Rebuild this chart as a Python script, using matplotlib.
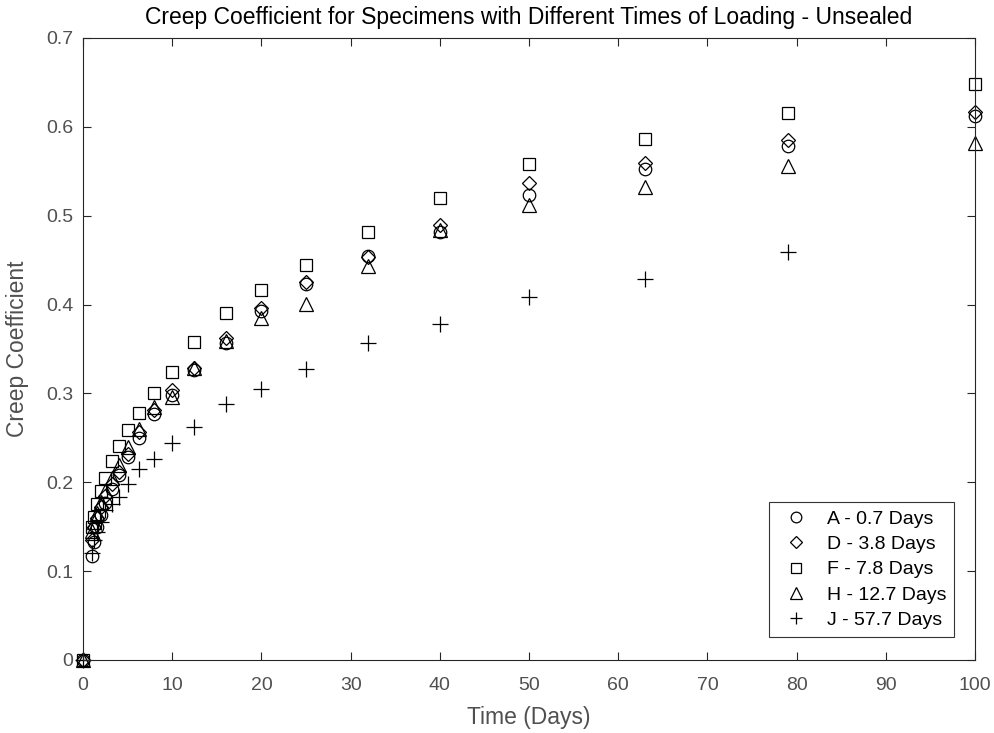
import numpy as np
import matplotlib
matplotlib.use("Agg")
import matplotlib.pyplot as plt

plt.rcParams['font.family'] = ['Liberation Sans', 'DejaVu Sans']

days = [0, 1, 1.25, 1.6, 2, 2.5, 3.2, 4, 5, 6.3, 8, 10, 12.5, 16, 20, 25, 32, 40, 50, 63, 79, 100]
A = [0, 0.117, 0.133, 0.150, 0.163, 0.177, 0.192, 0.208, 0.228, 0.250, 0.277, 0.298, 0.326, 0.357, 0.393, 0.423, 0.455, 0.482, 0.523, 0.553, 0.578, 0.612]
D = [0, 0.135, 0.150, 0.160, 0.172, 0.185, 0.198, 0.212, 0.232, 0.257, 0.281, 0.304, 0.329, 0.362, 0.396, 0.425, 0.454, 0.490, 0.537, 0.559, 0.585, 0.617]
F = [0, 0.150, 0.161, 0.176, 0.190, 0.205, 0.224, 0.241, 0.259, 0.278, 0.300, 0.324, 0.358, 0.390, 0.416, 0.445, 0.482, 0.520, 0.558, 0.586, 0.616, 0.648]
H = [0, 0.145, 0.155, 0.165, 0.178, 0.190, 0.205, 0.220, 0.240, 0.260, 0.285, 0.296, 0.329, 0.359, 0.385, 0.401, 0.443, 0.484, 0.512, 0.532, 0.556, 0.582]
J = [0, 0.120, 0.135, 0.144, 0.155, 0.169, 0.175, 0.183, 0.198, 0.215, 0.226, 0.244, 0.262, 0.288, 0.305, 0.327, 0.357, 0.378, 0.408, 0.429, 0.459, np.nan]

labels = ['A - 0.7 Days', 'D - 3.8 Days', 'F - 7.8 Days', 'H - 12.7 Days', 'J - 57.7 Days']
markers = ['o', 'D', 's', '^', '+']
sizes = [9, 7, 8, 10, 11]

fig = plt.figure(figsize=(9.95, 7.33), dpi=100)
ax = fig.add_axes([0.0834, 0.0996, 0.8966, 0.8486])

for ys, lab, m, s in zip([A, D, F, H, J], labels, markers, sizes):
    ax.plot(days, ys, linestyle='none', marker=m, markersize=s,
            markerfacecolor='none', markeredgecolor='black', color='black',
            markeredgewidth=0.9, label=lab, clip_on=False)

ax.set_xlim(0, 100)
ax.set_ylim(0, 0.7)
ax.set_xticks(np.arange(0, 101, 10))
ax.set_yticks(np.arange(0, 0.71, 0.1))
ax.set_yticklabels(['0', '0.1', '0.2', '0.3', '0.4', '0.5', '0.6', '0.7'])
gray = '#262626'
lblgray = '#505050'
for sp in ax.spines.values():
    sp.set_color(gray)
    sp.set_linewidth(0.8)
ax.tick_params(direction='in', top=True, right=True, colors=gray, labelcolor=lblgray,
               labelsize=14, length=6)
ax.tick_params(axis='x', pad=12)
ax.tick_params(axis='y', pad=7)
ax.set_xlabel('Time (Days)', fontsize=16.5, color=lblgray, labelpad=9)
ax.set_ylabel('Creep Coefficient', fontsize=16.5, color=lblgray, labelpad=12)
ax.set_title('Creep Coefficient for Specimens with Different Times of Loading - Unsealed',
             fontsize=16.5, color='black', pad=10)

leg = ax.legend(loc='lower right', bbox_to_anchor=(0.9765, 0.037), borderaxespad=0,
                fontsize=14, frameon=True, fancybox=False, edgecolor='black',
                handlelength=2.0, handletextpad=0.6, markerscale=0.85,
                borderpad=0.4, labelspacing=0.4)
leg.get_frame().set_linewidth(0.8)

fig.savefig('out.png', dpi=100)
